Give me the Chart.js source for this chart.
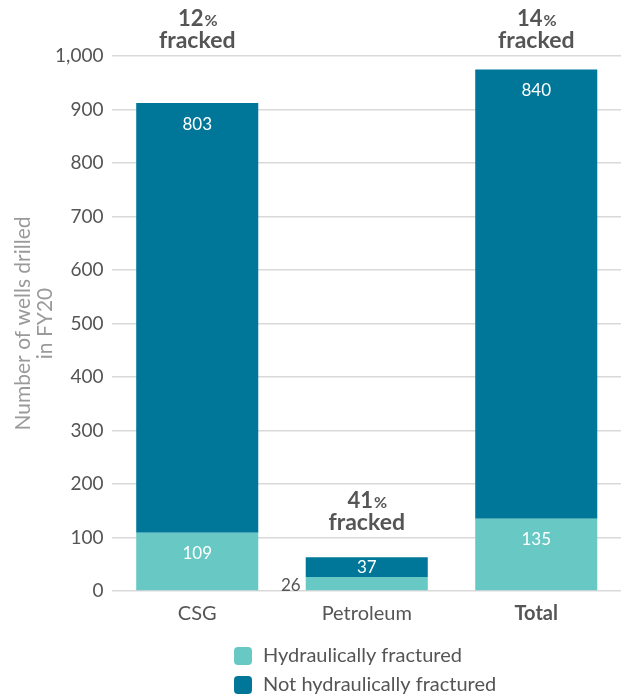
<!DOCTYPE html>
<html>
<head>
<meta charset="utf-8">
<script src="https://cdn.jsdelivr.net/npm/chart.js@4.4.0/dist/chart.umd.min.js"></script>
<style>
html,body{margin:0;padding:0;background:#fff;}
#wrap{width:621px;height:697px;position:relative;}
</style>
</head>
<body>
<div id="wrap"><canvas id="c" width="621" height="697"></canvas></div>
<script>
const categories = ['CSG', 'Petroleum', 'Total'];
const fractured = [109, 26, 135];
const notFractured = [803, 37, 840];
const seriesNames = ['Hydraulically fractured', 'Not hydraulically fractured'];
const yTicks = [0, 100, 200, 300, 400, 500, 600, 700, 800, 900, 1000];
const axisTitle = ['Number of wells drilled', 'in FY20'];

const LIGHT = '#67c8c4';
const DARK = '#007799';
const TEXT = '#555555';
const FONT = 'Lato, "Open Sans", sans-serif';

const labelsPlugin = {
  id: 'customLabels',
  afterDatasetsDraw(chart) {
    const ctx = chart.ctx;
    const area = chart.chartArea;
    ctx.save();
    chart.data.datasets.forEach((ds, di) => {
      const meta = chart.getDatasetMeta(di);
      meta.data.forEach((bar, i) => {
        const top = Math.min(bar.y, bar.base);
        const bottom = Math.max(bar.y, bar.base);
        const h = bottom - top;
        const txt = String(ds.data[i]);
        ctx.font = '17px ' + FONT;
        ctx.textBaseline = 'middle';
        if (h < 16) {
          ctx.fillStyle = TEXT;
          ctx.textAlign = 'right';
          ctx.fillText(txt, bar.x - bar.width / 2 - 5, (top + bottom) / 2 + 2);
        } else if (h < 40) {
          ctx.fillStyle = '#ffffff';
          ctx.textAlign = 'center';
          ctx.fillText(txt, bar.x, (top + bottom) / 2);
        } else {
          ctx.fillStyle = '#ffffff';
          ctx.textAlign = 'center';
          ctx.fillText(txt, bar.x, top + 21);
        }
      });
    });
    // fracked annotations
    const metaTop = chart.getDatasetMeta(1);
    metaTop.data.forEach((bar, i) => {
      const total = fractured[i] + notFractured[i];
      const pct = Math.round(fractured[i] / total * 100);
      let y = bar.y - 35;
      if (y < area.top + 100) y = area.top - 16;
      ctx.fillStyle = TEXT;
      ctx.textBaseline = 'alphabetic';
      ctx.textAlign = 'left';
      const numStr = String(pct);
      ctx.font = 'bold 22px ' + FONT;
      const w1 = ctx.measureText(numStr).width;
      ctx.font = 'bold 16px ' + FONT;
      const w2 = ctx.measureText('%').width;
      const x0 = bar.x - (w1 + w2) / 2;
      ctx.font = 'bold 22px ' + FONT;
      ctx.fillText(numStr, x0, y - 14);
      ctx.font = 'bold 16px ' + FONT;
      ctx.fillText('%', x0 + w1 + 1, y - 14);
      ctx.font = 'bold 23px ' + FONT;
      ctx.textAlign = 'center';
      ctx.fillText('fracked', bar.x, y + 8);
    });
    ctx.restore();
  }
};

const legendPlugin = {
  id: 'stackLegend',
  afterDraw(chart) {
    const ctx = chart.ctx;
    ctx.save();
    const colors = [LIGHT, DARK];
    const rows = [656, 685];
    seriesNames.forEach((name, i) => {
      const y = rows[i];
      ctx.fillStyle = colors[i];
      ctx.beginPath();
      ctx.roundRect(234, y - 9, 18, 18, 4);
      ctx.fill();
      ctx.fillStyle = TEXT;
      ctx.font = '20px ' + FONT;
      ctx.textAlign = 'left';
      ctx.textBaseline = 'middle';
      ctx.fillText(name, 263, y);
    });
    ctx.restore();
  }
};

new Chart(document.getElementById('c'), {
  type: 'bar',
  data: {
    labels: categories,
    datasets: [
      { label: seriesNames[0], data: fractured, backgroundColor: LIGHT, categoryPercentage: 1, barPercentage: 0.72 },
      { label: seriesNames[1], data: notFractured, backgroundColor: DARK, categoryPercentage: 1, barPercentage: 0.72 }
    ]
  },
  options: {
    responsive: false,
    animation: false,
    layout: { padding: { top: 56, right: 0, bottom: 68, left: 0 } },
    plugins: { legend: { display: false }, tooltip: { enabled: false } },
    scales: {
      x: {
        stacked: true,
        grid: { display: false },
        border: { display: false },
        ticks: {
          color: TEXT,
          padding: 3,
          font: (c) => ({ family: FONT, size: 20, weight: c.index === 2 ? 'bold' : 'normal' })
        }
      },
      y: {
        stacked: true,
        min: 0,
        max: 1000,
        afterBuildTicks: (axis) => { axis.ticks = yTicks.map(v => ({ value: v })); },
        grid: { color: '#d9d9d9', drawTicks: false, lineWidth: 1.5 },
        border: { display: false },
        ticks: {
          color: TEXT,
          padding: 9,
          font: { family: FONT, size: 19 },
          callback: (v) => Number(v).toLocaleString('en-US')
        },
        title: {
          display: true,
          text: axisTitle,
          color: '#9a9a9a',
          font: { family: FONT, size: 21, lineHeight: 1.05 },
          padding: { top: 12, bottom: -10 }
        }
      }
    }
  },
  plugins: [labelsPlugin, legendPlugin]
});
</script>
</body>
</html>
